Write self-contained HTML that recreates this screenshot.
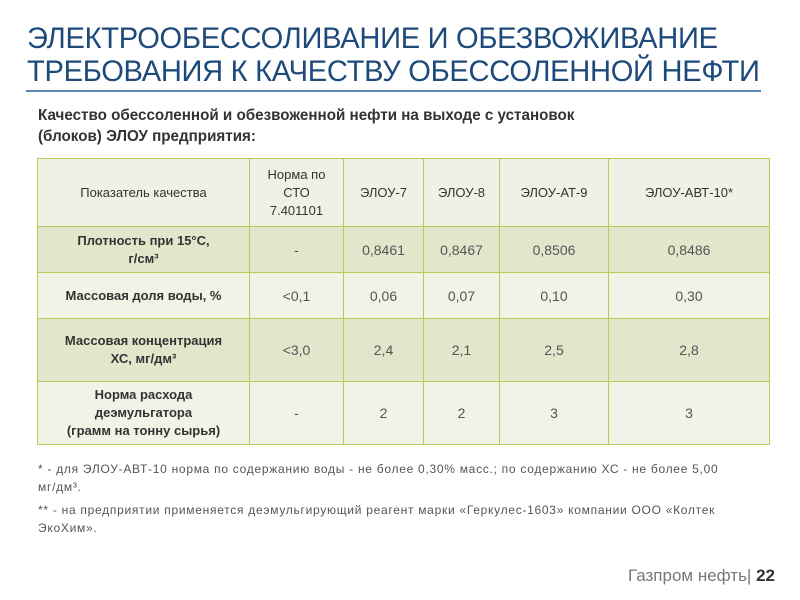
<!DOCTYPE html>
<html><head><meta charset="utf-8"><style>
body{margin:0;width:800px;height:600px;background:#fff;position:relative;overflow:hidden;font-family:"Liberation Sans","Noto Sans CJK SC",sans-serif;}
.t{position:absolute;left:27px;top:22px;font-size:30px;line-height:33px;color:#1d4a7a;letter-spacing:-0.3px;transform:scaleX(0.97);transform-origin:left top;white-space:nowrap}
.ln{position:absolute;left:26px;top:90px;width:735px;height:2px;background:#5b87b5}
.s{position:absolute;left:38px;top:105px;font-size:15.5px;line-height:21px;font-weight:bold;color:#333;transform:scaleX(0.98);transform-origin:left top;white-space:nowrap}
table{position:absolute;left:37px;top:158px;border-collapse:collapse;table-layout:fixed}
td{border:1.5px solid #b7cc55;text-align:center;font-size:13px;color:#444;padding:0;line-height:18px}
td.b{font-weight:bold;color:#333}
.h td{background:#eff1e4;color:#333}
.a td{background:#e2e7cc}
.c td{background:#f1f3e6}
.v{font-size:14px;color:#555}
.f{position:absolute;left:38px;font-size:12px;line-height:18px;color:#555;white-space:nowrap;letter-spacing:0.72px}
.ft{position:absolute;right:25px;top:566px;font-size:17px;color:#777}
.ft b{color:#333}
</style></head><body>
<div class="t">ЭЛЕКТРООБЕССОЛИВАНИЕ И ОБЕЗВОЖИВАНИЕ<br>ТРЕБОВАНИЯ К КАЧЕСТВУ ОБЕССОЛЕННОЙ НЕФТИ</div>
<div class="ln"></div>
<div class="s">Качество обессоленной и обезвоженной нефти на выходе с установок<br>(блоков) ЭЛОУ предприятия:</div>
<table>
<colgroup><col style="width:212px"><col style="width:94px"><col style="width:80px"><col style="width:76px"><col style="width:109px"><col style="width:161px"></colgroup>
<tr class="h" style="height:68px"><td>Показатель качества</td><td>Норма по<br>СТО<br>7.401101</td><td>ЭЛОУ-7</td><td>ЭЛОУ-8</td><td>ЭЛОУ-АТ-9</td><td>ЭЛОУ-АВТ-10*</td></tr>
<tr class="a" style="height:46px"><td class="b">Плотность при 15°C,<br>г/см³</td><td class="v">-</td><td class="v">0,8461</td><td class="v">0,8467</td><td class="v">0,8506</td><td class="v">0,8486</td></tr>
<tr class="c" style="height:46px"><td class="b">Массовая доля воды, %</td><td class="v">&lt;0,1</td><td class="v">0,06</td><td class="v">0,07</td><td class="v">0,10</td><td class="v">0,30</td></tr>
<tr class="a" style="height:63px"><td class="b">Массовая концентрация<br>ХС, мг/дм³</td><td class="v">&lt;3,0</td><td class="v">2,4</td><td class="v">2,1</td><td class="v">2,5</td><td class="v">2,8</td></tr>
<tr class="c" style="height:63px"><td class="b">Норма расхода<br>деэмульгатора<br>(грамм на тонну сырья)</td><td class="v">-</td><td class="v">2</td><td class="v">2</td><td class="v">3</td><td class="v">3</td></tr>
</table>
<div class="f" style="top:460px">* - для ЭЛОУ-АВТ-10 норма по содержанию воды - не более 0,30% масс.; по содержанию ХС - не более 5,00<br>мг/дм³.</div>
<div class="f" style="top:501px">** - на предприятии применяется деэмульгирующий реагент марки «Геркулес-1603» компании ООО «Колтек<br>ЭкоХим».</div>
<div class="ft">Газпром нефть| <b>22</b></div>
</body></html>
